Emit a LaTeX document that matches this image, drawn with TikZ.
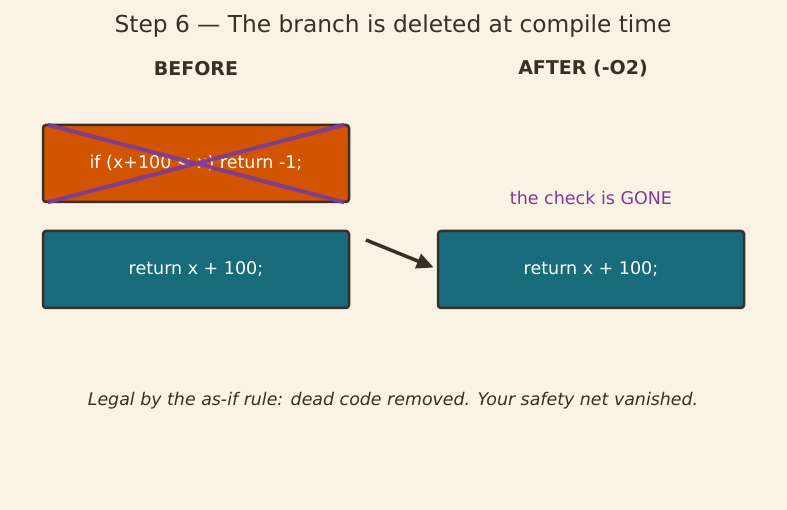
\documentclass[tikz,border=0pt]{standalone}
\usepackage{fontspec}
\setmainfont{DejaVu Sans}
\usetikzlibrary{arrows.meta}
\definecolor{bg}{HTML}{FAF2E4}
\definecolor{ink}{HTML}{3A2E28}
\definecolor{orng}{HTML}{D35400}
\definecolor{teal}{HTML}{176B7B}
\definecolor{purp}{HTML}{7D3C98}
\tikzset{
  codebox/.style={draw=ink, line width=2.5pt, rounded corners=3pt, minimum width=306pt, minimum height=77pt, text=white, font=\fontsize{17.5}{21}\selectfont, inner sep=0pt},
  head/.style={text=ink, font=\bfseries\fontsize{19}{22}\selectfont},
}
\begin{document}
\begin{tikzpicture}[x=1pt,y=-1pt]
\fill[bg] (0,0) rectangle (787,510);
\useasboundingbox (0,0) rectangle (787,510);
\node[text=ink, font=\fontsize{23.3}{27}\selectfont] (title) at (393,26.5) {Step 6 — The branch is deleted at compile time};
\node[head] (before) at (196,69) {BEFORE};
\node[head] (after) at (583,69) {AFTER (-O2)};
\node[codebox, fill=orng] (ifbox) at (196,163.5) {\raisebox{-1pt}{if (x+100 < x) return -1;}};
\draw[purp, line width=4pt, opacity=0.95] ([shift={(6,1)}]ifbox.north west) -- ([shift={(-6,-1)}]ifbox.south east);
\draw[purp, line width=4pt, opacity=0.95] ([shift={(6,-1)}]ifbox.south west) -- ([shift={(-6,1)}]ifbox.north east);
\node[codebox, fill=teal] (retL) at (196,269.5) {\raisebox{-1pt}{return x + 100;}};
\node[codebox, fill=teal] (retR) at (591,269.5) {\raisebox{-1pt}{return x + 100;}};
\node[text=purp, font=\fontsize{17.5}{21}\selectfont] (gone) at (591,198) {the check is GONE};
\coordinate (arrS) at (366,240);
\draw[ink, line width=3.5pt, -{Triangle[length=17pt,width=15pt]}] (arrS) -- ([shift={(-3,-2)}]retR.west);
\node[text=ink, font=\itshape\fontsize{17.4}{21}\selectfont] (caption) at (393,401) {Legal by the as-if rule: dead code removed. Your safety net vanished.};
\end{tikzpicture}
\end{document}
